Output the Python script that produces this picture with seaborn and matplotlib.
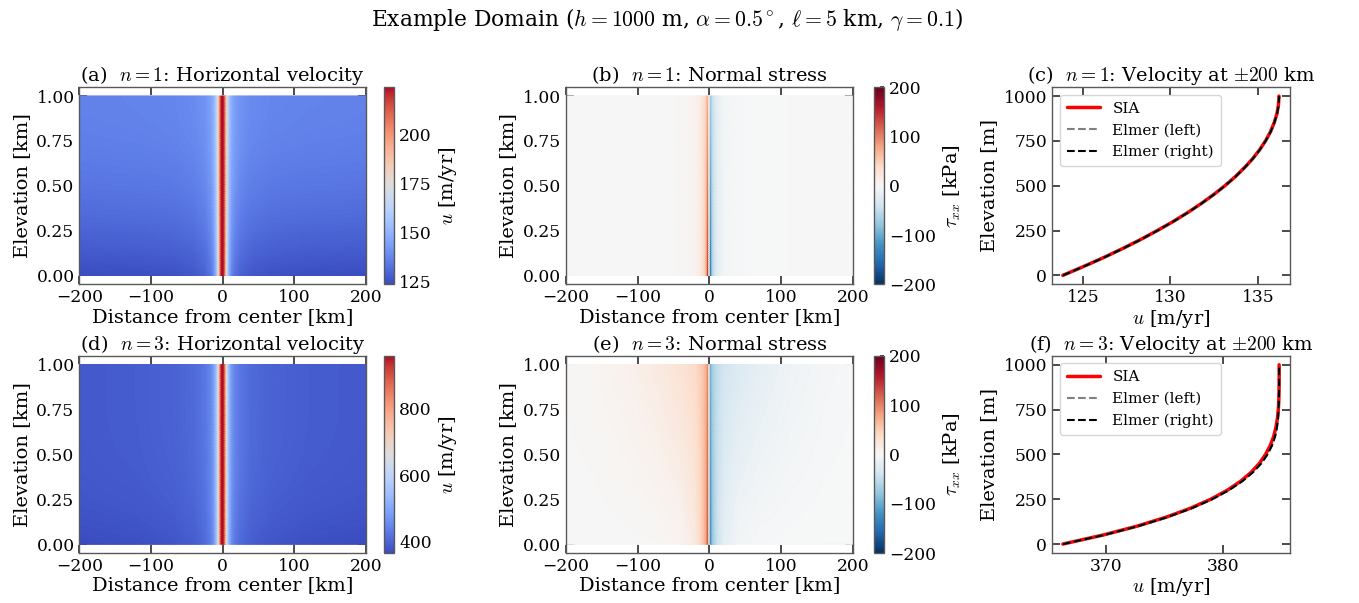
import numpy as np
import pandas as pd
import matplotlib
matplotlib.use("Agg")
import matplotlib.pyplot as plt
import seaborn as sns

# ---------------------------------------------------------------------------
# Vertical velocity profiles at x = +/-200 km (SIA and Elmer/Ice)
# ---------------------------------------------------------------------------
elevation_m = [0, 50, 100, 150, 200, 250, 300, 350, 400, 450, 500,
               550, 600, 650, 700, 750, 800, 850, 900, 950, 1000]

sia_u_n1 = [123.85, 125.05, 126.20, 127.28, 128.30, 129.25, 130.15, 130.98,
            131.75, 132.46, 133.11, 133.70, 134.22, 134.69, 135.09, 135.43,
            135.71, 135.92, 136.08, 136.17, 136.20]
elmer_left_u_n1 = [123.86, 125.06, 126.21, 127.29, 128.31, 129.26, 130.16, 130.99,
                   131.76, 132.47, 133.12, 133.71, 134.23, 134.70, 135.10, 135.44,
                   135.72, 135.93, 136.09, 136.18, 136.21]
elmer_right_u_n1 = [123.86, 125.06, 126.21, 127.29, 128.31, 129.26, 130.16, 130.99,
                    131.76, 132.47, 133.12, 133.71, 134.23, 134.70, 135.10, 135.44,
                    135.72, 135.93, 136.09, 136.18, 136.21]

sia_u_n3 = [366.30, 369.73, 372.66, 375.14, 377.22, 378.95, 380.36, 381.50,
            382.40, 383.11, 383.64, 384.04, 384.33, 384.52, 384.65, 384.73,
            384.77, 384.79, 384.80, 384.80, 384.80]
elmer_left_u_n3 = [366.32, 369.80, 372.75, 375.24, 377.33, 379.07, 380.49, 381.64,
                   382.55, 383.27, 383.80, 384.19, 384.45, 384.61, 384.70, 384.75,
                   384.78, 384.79, 384.80, 384.80, 384.80]
elmer_right_u_n3 = [366.32, 369.80, 372.75, 375.24, 377.33, 379.07, 380.49, 381.64,
                    382.55, 383.27, 383.80, 384.19, 384.45, 384.61, 384.70, 384.75,
                    384.78, 384.79, 384.80, 384.80, 384.80]

# ---------------------------------------------------------------------------
# Cross-flow structure of the 2-D fields
# ---------------------------------------------------------------------------
# speed-up over the slippery patch, as a fraction of the centre-line excess
vel_dist_km = [0, 1, 2, 3, 4, 5, 6, 8, 10, 13, 17, 25, 40, 70, 120, 200]
vel_frac_n1 = [1.00, 0.99, 0.95, 0.87, 0.75, 0.60, 0.48, 0.32, 0.22, 0.14,
               0.09, 0.05, 0.025, 0.010, 0.004, 0.0]
vel_frac_n3 = [1.00, 0.99, 0.95, 0.86, 0.74, 0.60, 0.48, 0.33, 0.24, 0.16,
               0.11, 0.07, 0.040, 0.020, 0.008, 0.0]
vel_center_n1 = 224.0
vel_center_n3 = 960.0

# normal-stress magnitude (kPa) at the bed and at the surface;
# compressive (red) upstream of the patch, extensive (blue) downstream
stress_dist_km = [0, 1, 2, 3, 5, 8, 12, 20, 40, 70, 110, 160, 200]
stress_bed_n1 = [0, 80, 150, 95, 55, 35, 18, 6, 2, 0.5, 0, 0, 0]
stress_surf_n1 = [0, 40, 75, 60, 42, 30, 16, 6, 2, 0.5, 0, 0, 0]
stress_bed_n3 = [0, 80, 130, 100, 72, 55, 40, 18, 5, 1.5, 0.5, 0, 0]
stress_surf_n3 = [0, 60, 100, 80, 65, 55, 48, 38, 28, 18, 10, 4, 2]

# ---------------------------------------------------------------------------
sns.set_theme(style="ticks")
plt.rcParams.update({
    "font.family": ["DejaVu Serif"],
    "mathtext.fontset": "cm",
    "text.color": "black",
    "axes.labelcolor": "black",
    "xtick.direction": "in",
    "ytick.direction": "in",
    "xtick.top": True,
    "ytick.right": True,
    "axes.edgecolor": "0.35",
    "axes.linewidth": 1.0,
    "xtick.color": "0.2",
    "ytick.color": "0.2",
    "xtick.labelcolor": "black",
    "ytick.labelcolor": "black",
    "font.size": 13,
    "axes.titlesize": 14,
    "axes.labelsize": 14,
    "xtick.labelsize": 12.3,
    "ytick.labelsize": 12.3,
    "legend.fontsize": 11,
})

dist_grid = np.linspace(-200, 200, 801)
elev_grid = np.linspace(0.0, 1.0, 101)
XX, ZZ = np.meshgrid(dist_grid, elev_grid)


def velocity_field(profile, frac, center):
    far = np.interp(ZZ * 1000.0, elevation_m, profile)
    f = np.interp(np.abs(XX), vel_dist_km, frac)
    return far + (center - far) * f


def stress_field(bed, surf):
    a_bed = np.interp(np.abs(XX), stress_dist_km, bed)
    a_surf = np.interp(np.abs(XX), stress_dist_km, surf)
    amp = (1.0 - ZZ) * a_bed + ZZ * a_surf
    return np.where(XX < 0, amp, -amp)


fields = {
    "a": velocity_field(sia_u_n1, vel_frac_n1, vel_center_n1),
    "b": stress_field(stress_bed_n1, stress_surf_n1),
    "d": velocity_field(sia_u_n3, vel_frac_n3, vel_center_n3),
    "e": stress_field(stress_bed_n3, stress_surf_n3),
}

fig = plt.figure(figsize=(13.59, 6.03), dpi=100)
fig.suptitle(r"Example Domain ($h=1000$ m, $\alpha=0.5^\circ$, $\ell=5$ km, $\gamma=0.1$)",
             fontsize=15.7, x=0.491, y=0.99)

row_bottom = [0.5285, 0.0829]
row_h = 0.327
col_left = [0.0584, 0.4165, 0.7741]
map_w = 0.2110
prof_w = 0.1751
cbar_left = [0.2826, 0.6431]
cbar_w = 0.0074


def field_panel(row, col, key, cmap, vmin, vmax, cticks, clabel, title):
    ax = fig.add_axes([col_left[col], row_bottom[row], map_w, row_h])
    cax = fig.add_axes([cbar_left[col], row_bottom[row], cbar_w, row_h])
    mesh = ax.pcolormesh(dist_grid, elev_grid, fields[key], cmap=cmap,
                         vmin=vmin, vmax=vmax, shading="gouraud", rasterized=True)
    ax.set_xlim(-200, 200)
    ax.set_ylim(-0.05, 1.05)
    ax.set_xticks([-200, -100, 0, 100, 200])
    ax.set_yticks([0.0, 0.25, 0.5, 0.75, 1.0])
    ax.set_yticklabels(["0.00", "0.25", "0.50", "0.75", "1.00"])
    ax.set_xlabel("Distance from center [km]", labelpad=1)
    ax.set_ylabel("Elevation [km]")
    ax.set_title(title, pad=4)
    cb = fig.colorbar(mesh, cax=cax)
    cb.set_ticks(cticks)
    cb.set_label(clabel)
    cb.outline.set_edgecolor("0.35")
    cax.tick_params(direction="in", length=3, labelsize=12.3)
    return ax


def profile_panel(row, sia, left, right, xticks, title):
    ax = fig.add_axes([col_left[2], row_bottom[row], prof_w, row_h])
    df = pd.DataFrame({"z": elevation_m, "sia": sia, "left": left, "right": right})
    sns.lineplot(data=df, x="sia", y="z", sort=False, estimator=None, ax=ax,
                 color="red", lw=2.5, label="SIA")
    sns.lineplot(data=df, x="left", y="z", sort=False, estimator=None, ax=ax,
                 color="gray", lw=1.5, ls="--", label="Elmer (left)")
    sns.lineplot(data=df, x="right", y="z", sort=False, estimator=None, ax=ax,
                 color="black", lw=1.5, ls="--", label="Elmer (right)")
    ax.set_xticks(xticks)
    ax.set_yticks([0, 250, 500, 750, 1000])
    ax.set_xlabel(r"$u$ [m/yr]", labelpad=1)
    ax.set_ylabel("Elevation [m]")
    ax.set_title(title, pad=4)
    ax.legend(loc="upper left", handlelength=2.2, borderpad=0.45,
              labelspacing=0.5, handletextpad=0.8)
    return ax


field_panel(0, 0, "a", "coolwarm", 123.5, 224, [125, 150, 175, 200],
            r"$u$ [m/yr]", r"(a)  $n=1$: Horizontal velocity")
field_panel(0, 1, "b", "RdBu_r", -200, 200, [-200, -100, 0, 100, 200],
            r"$\tau_{xx}$ [kPa]", r"(b)  $n=1$: Normal stress")
profile_panel(0, sia_u_n1, elmer_left_u_n1, elmer_right_u_n1, [125, 130, 135],
              r"(c)  $n=1$: Velocity at $\pm200$ km")
field_panel(1, 0, "d", "coolwarm", 366, 960, [400, 600, 800],
            r"$u$ [m/yr]", r"(d)  $n=3$: Horizontal velocity")
field_panel(1, 1, "e", "RdBu_r", -200, 200, [-200, -100, 0, 100, 200],
            r"$\tau_{xx}$ [kPa]", r"(e)  $n=3$: Normal stress")
profile_panel(1, sia_u_n3, elmer_left_u_n3, elmer_right_u_n3, [370, 380],
              r"(f)  $n=3$: Velocity at $\pm200$ km")

fig.savefig("out.png", dpi=100)
